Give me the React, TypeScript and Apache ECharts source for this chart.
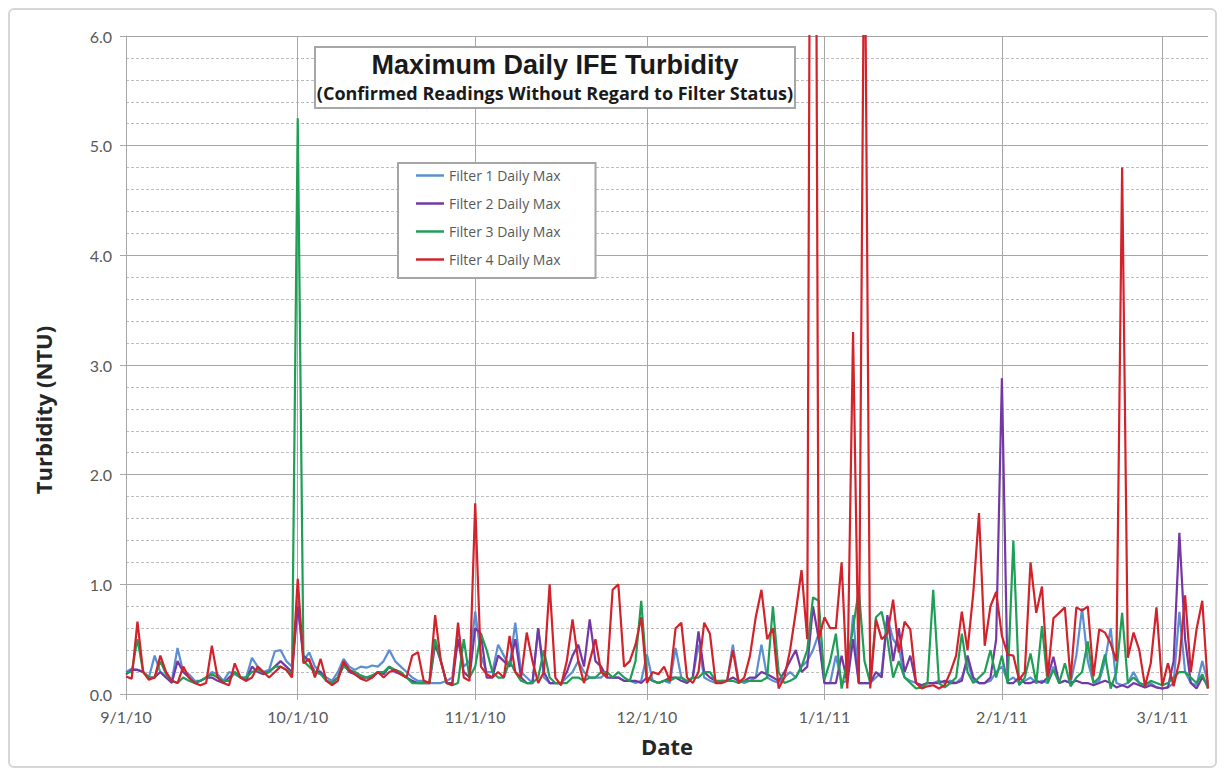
import React, { useEffect, useRef } from "react";
import * as echarts from "echarts";

// Daily dates from 9/1/10 (190 days, through 3/9/11)
const START_DATE = Date.UTC(2010, 8, 1);
const DAY_COUNT = 190;
const dates: string[] = [];
for (let i = 0; i < DAY_COUNT; i++) {
  const d = new Date(START_DATE + i * 86400000);
  dates.push(`${d.getUTCMonth() + 1}/${d.getUTCDate()}/${String(d.getUTCFullYear() % 100).padStart(2, "0")}`);
}

const yTicks = [0, 1, 2, 3, 4, 5, 6];

const filter1 = [
  0.2, 0.23, 0.22, 0.2, 0.15, 0.35, 0.2, 0.15, 0.12, 0.42,
  0.2, 0.18, 0.12, 0.12, 0.15, 0.2, 0.18, 0.12, 0.2, 0.18,
  0.15, 0.15, 0.33, 0.25, 0.2, 0.22, 0.39, 0.4, 0.3, 0.25,
  0.85, 0.3, 0.38, 0.25, 0.2, 0.15, 0.12, 0.2, 0.32, 0.25,
  0.22, 0.25, 0.24, 0.26, 0.25, 0.3, 0.4, 0.3, 0.25, 0.2,
  0.15, 0.12, 0.12, 0.1, 0.1, 0.1, 0.12, 0.15, 0.6, 0.25,
  0.3, 0.75, 0.35, 0.2, 0.2, 0.45, 0.35, 0.25, 0.65, 0.2,
  0.15, 0.1, 0.6, 0.15, 0.1, 0.1, 0.1, 0.15, 0.2, 0.3,
  0.2, 0.15, 0.15, 0.15, 0.2, 0.15, 0.15, 0.12, 0.12, 0.1,
  0.12, 0.36, 0.12, 0.1, 0.12, 0.1, 0.42, 0.15, 0.1, 0.15,
  0.45, 0.15, 0.12, 0.1, 0.12, 0.12, 0.45, 0.12, 0.1, 0.12,
  0.15, 0.45, 0.15, 0.12, 0.1, 0.15, 0.2, 0.15, 0.25, 0.3,
  0.4, 0.55, 0.1, 0.1, 0.35, 0.1, 0.12, 0.72, 0.1, 0.1,
  0.1, 0.15, 0.2, 0.7, 0.5, 0.42, 0.15, 0.12, 0.1, 0.08,
  0.1, 0.1, 0.12, 0.1, 0.12, 0.1, 0.15, 0.3, 0.12, 0.1,
  0.1, 0.12, 0.2, 0.25, 0.12, 0.15, 0.1, 0.12, 0.15, 0.1,
  0.12, 0.1, 0.25, 0.1, 0.12, 0.1, 0.35, 0.78, 0.3, 0.1,
  0.12, 0.3, 0.6, 0.1, 0.08, 0.1, 0.2, 0.1, 0.08, 0.1,
  0.06, 0.05, 0.06, 0.1, 0.75, 0.2, 0.1, 0.08, 0.3, 0.1,
];

const filter2 = [
  0.18, 0.22, 0.22, 0.2, 0.15, 0.15, 0.2, 0.15, 0.1, 0.3,
  0.2, 0.15, 0.1, 0.12, 0.15, 0.15, 0.12, 0.1, 0.15, 0.2,
  0.15, 0.12, 0.25, 0.2, 0.18, 0.2, 0.25, 0.3, 0.25, 0.2,
  0.8, 0.35, 0.3, 0.2, 0.2, 0.12, 0.1, 0.15, 0.28, 0.2,
  0.18, 0.15, 0.15, 0.15, 0.2, 0.18, 0.25, 0.2, 0.18, 0.15,
  0.12, 0.1, 0.1, 0.1, 0.45, 0.3, 0.1, 0.1, 0.5, 0.2,
  0.15, 0.6, 0.55, 0.15, 0.15, 0.35, 0.3, 0.25, 0.5, 0.15,
  0.1, 0.1, 0.6, 0.2, 0.1, 0.1, 0.1, 0.2, 0.35, 0.45,
  0.25, 0.68, 0.3, 0.25, 0.15, 0.15, 0.15, 0.12, 0.12, 0.12,
  0.1, 0.15, 0.12, 0.1, 0.12, 0.15, 0.15, 0.12, 0.1, 0.15,
  0.57, 0.2, 0.15, 0.12, 0.1, 0.12, 0.15, 0.12, 0.12, 0.15,
  0.15, 0.2, 0.18, 0.15, 0.12, 0.2, 0.3, 0.4, 0.2, 0.25,
  0.8, 0.5, 0.1, 0.1, 0.1, 0.35, 0.1, 0.5, 0.1, 0.1,
  0.1, 0.2, 0.15, 0.72, 0.3, 0.6, 0.2, 0.35, 0.1, 0.08,
  0.1, 0.1, 0.1, 0.12, 0.1, 0.1, 0.12, 0.35, 0.15, 0.1,
  0.1, 0.15, 0.5, 2.88, 0.1, 0.1, 0.15, 0.1, 0.1, 0.12,
  0.1, 0.15, 0.34, 0.1, 0.12, 0.1, 0.12, 0.1, 0.1, 0.08,
  0.1, 0.12, 0.1, 0.06, 0.08, 0.06, 0.1, 0.08, 0.06, 0.08,
  0.06, 0.05, 0.06, 0.3, 1.47, 0.5, 0.1, 0.05, 0.15, 0.08,
];

const filter3 = [
  0.2, 0.2, 0.5, 0.2, 0.15, 0.15, 0.3, 0.18, 0.12, 0.1,
  0.15, 0.12, 0.1, 0.12, 0.15, 0.18, 0.15, 0.12, 0.12, 0.2,
  0.15, 0.15, 0.2, 0.22, 0.2, 0.2, 0.25, 0.25, 0.22, 0.18,
  5.25, 0.3, 0.25, 0.2, 0.18, 0.12, 0.1, 0.15, 0.25, 0.22,
  0.2, 0.17, 0.15, 0.17, 0.2, 0.2, 0.25, 0.22, 0.2, 0.15,
  0.1, 0.1, 0.1, 0.1, 0.5, 0.3, 0.1, 0.08, 0.1, 0.5,
  0.15, 0.25, 0.55, 0.4, 0.2, 0.15, 0.15, 0.3, 0.2, 0.12,
  0.1, 0.1, 0.15, 0.4, 0.15, 0.1, 0.1, 0.1, 0.15, 0.15,
  0.12, 0.15, 0.15, 0.2, 0.2, 0.15, 0.2, 0.15, 0.12, 0.3,
  0.85, 0.15, 0.12, 0.1, 0.12, 0.12, 0.15, 0.15, 0.12, 0.15,
  0.15, 0.2, 0.2, 0.12, 0.12, 0.12, 0.12, 0.1, 0.12, 0.12,
  0.12, 0.12, 0.15, 0.8, 0.2, 0.1, 0.12, 0.15, 0.25, 0.4,
  0.88, 0.85, 0.13, 0.3, 0.55, 0.05, 0.3, 0.6, 0.95, 0.3,
  0.1, 0.7, 0.75, 0.5, 0.15, 0.3, 0.15, 0.1, 0.05, 0.06,
  0.1, 0.95, 0.1, 0.06, 0.1, 0.15, 0.55, 0.2, 0.1, 0.15,
  0.2, 0.4, 0.15, 0.35, 0.1, 1.4, 0.08, 0.15, 0.37, 0.1,
  0.62, 0.1, 0.22, 0.1, 0.28, 0.07, 0.15, 0.2, 0.48, 0.1,
  0.15, 0.36, 0.05, 0.2, 0.74, 0.1, 0.15, 0.1, 0.08, 0.12,
  0.1, 0.08, 0.1, 0.15, 0.2, 0.2, 0.15, 0.1, 0.18, 0.05,
];

const filter4 = [
  0.16, 0.14, 0.66, 0.2, 0.13, 0.15, 0.35, 0.2, 0.12, 0.1,
  0.25, 0.15, 0.1, 0.08, 0.1, 0.44, 0.15, 0.1, 0.08, 0.28,
  0.15, 0.12, 0.15, 0.25, 0.2, 0.15, 0.2, 0.25, 0.22, 0.15,
  1.05, 0.28, 0.32, 0.15, 0.32, 0.12, 0.08, 0.12, 0.3, 0.22,
  0.18, 0.14, 0.12, 0.15, 0.2, 0.15, 0.2, 0.22, 0.18, 0.15,
  0.35, 0.38, 0.12, 0.1, 0.72, 0.3, 0.1, 0.08, 0.65, 0.15,
  0.12, 1.74, 0.25, 0.18, 0.15, 0.2, 0.15, 0.53, 0.2, 0.15,
  0.56, 0.3, 0.1, 0.2, 1.0, 0.15, 0.08, 0.3, 0.68, 0.3,
  0.1, 0.3, 0.5, 0.2, 0.15, 0.95, 1.0, 0.25, 0.3, 0.45,
  0.7, 0.1, 0.2, 0.18, 0.25, 0.12, 0.6, 0.65, 0.15, 0.1,
  0.2, 0.65, 0.55, 0.1, 0.1, 0.12, 0.4, 0.1, 0.15, 0.35,
  0.7, 0.95, 0.5, 0.6, 0.05, 0.15, 0.4, 0.75, 1.13, 0.5,
  15, 0.5, 0.7, 0.6, 0.6, 1.2, 0.05, 3.3, 0.1, 7.5,
  0.05, 0.68, 0.5, 0.55, 0.86, 0.38, 0.66, 0.59, 0.1, 0.05,
  0.07, 0.08, 0.05, 0.08, 0.2, 0.35, 0.75, 0.4, 0.92, 1.65,
  0.44, 0.8, 0.93, 0.53, 0.36, 0.35, 0.13, 0.2, 1.2, 0.74,
  0.98, 0.16, 0.69, 0.74, 0.79, 0.13, 0.79, 0.76, 0.8, 0.16,
  0.59, 0.56, 0.46, 0.3, 4.8, 0.33, 0.56, 0.4, 0.07, 0.28,
  0.79, 0.07, 0.28, 0.07, 0.3, 0.9, 0.2, 0.59, 0.85, 0.05,
];

const seriesNames = ["Filter 1 Daily Max", "Filter 2 Daily Max", "Filter 3 Daily Max", "Filter 4 Daily Max"];
const seriesColors = ["#5b8fd2", "#7438a6", "#1f9e57", "#d2232b"];
const seriesData = [filter1, filter2, filter3, filter4];

const isMonthStart = (_idx: number, val: string) => val.split("/")[1] === "1";

export default function App() {
  const ref = useRef<HTMLDivElement>(null);
  useEffect(() => {
    if (!ref.current) return;
    const chart = echarts.init(ref.current, null, { renderer: "svg" });
    const grid = "#a6a6a6";
    chart.setOption({
      animation: false,
      title: {
        text: "Maximum Daily IFE Turbidity",
        subtext: "(Confirmed Readings Without Regard to Filter Status)",
        left: 553,
        top: 47,
        textAlign: "center",
        padding: [4, 2, 6, 2],
        itemGap: 6,
        borderColor: "#a6a6a6",
        borderWidth: 2,
        backgroundColor: "#ffffff",
        textStyle: { fontFamily: "Liberation Sans", fontWeight: "bold", fontSize: 27, color: "#1a1a1a" },
        subtextStyle: { fontFamily: "Open Sans", fontWeight: "bold", fontSize: 18, color: "#1a1a1a" },
      },
      legend: {
        orient: "vertical",
        left: 398,
        top: 163,
        data: seriesNames,
        icon: "rect",
        itemWidth: 28,
        itemHeight: 2.5,
        itemGap: 9,
        padding: [3, 35, 9, 18],
        borderColor: "#a6a6a6",
        borderWidth: 2,
        backgroundColor: "#ffffff",
        textStyle: { fontFamily: "Open Sans", fontSize: 14, color: "#595959", lineHeight: 19 },
      },
      grid: { left: 126, right: 17, top: 36, bottom: 80 },
      xAxis: {
        type: "category",
        data: dates,
        boundaryGap: false,
        name: "Date",
        nameLocation: "middle",
        nameGap: 41,
        nameTextStyle: { fontFamily: "Open Sans", fontWeight: "bold", fontSize: 22, color: "#262626" },
        axisLine: { lineStyle: { color: grid, width: 1 } },
        axisTick: { interval: isMonthStart, length: 6, lineStyle: { color: grid } },
        axisLabel: { interval: isMonthStart, color: "#595959", fontFamily: "Lato", fontSize: 16, margin: 14 },
        splitLine: { show: true, interval: isMonthStart, lineStyle: { color: grid, width: 1 } },
      },
      yAxis: {
        type: "value",
        min: yTicks[0],
        max: yTicks[yTicks.length - 1],
        interval: 1,
        name: "Turbidity (NTU)",
        nameLocation: "middle",
        nameGap: 72,
        nameTextStyle: { fontFamily: "Open Sans", fontWeight: "bold", fontSize: 22, color: "#262626", padding: [0, 90, 0, 0] },
        axisLine: { show: true, lineStyle: { color: grid, width: 1 } },
        axisTick: { show: true, length: 6, lineStyle: { color: grid } },
        axisLabel: { formatter: (v: number) => v.toFixed(1), color: "#595959", fontFamily: "Lato", fontSize: 16, margin: 14 },
        splitLine: { show: true, lineStyle: { color: grid, width: 1 } },
        minorTick: { show: false, splitNumber: 5 },
        minorSplitLine: { show: true, lineStyle: { color: "#bdbdbd", width: 1, type: [3, 2] } },
      },
      series: seriesNames.map((name, i) => ({
        name,
        type: "line",
        data: seriesData[i],
        symbol: "none",
        color: seriesColors[i],
        lineStyle: { width: 2.2, color: seriesColors[i] },
        clip: true,
      })),
    });
    return () => chart.dispose();
  }, []);

  return (
    <>
      <div
        style={{
          position: "absolute",
          left: 8,
          top: 8,
          width: 1209,
          height: 760,
          border: "2px solid #d6d6d6",
          borderRadius: 6,
          boxSizing: "border-box",
          background: "#fff",
        }}
      />
      <div ref={ref} style={{ position: "absolute", left: 0, top: 0, width: 1225, height: 774 }} />
    </>
  );
}
